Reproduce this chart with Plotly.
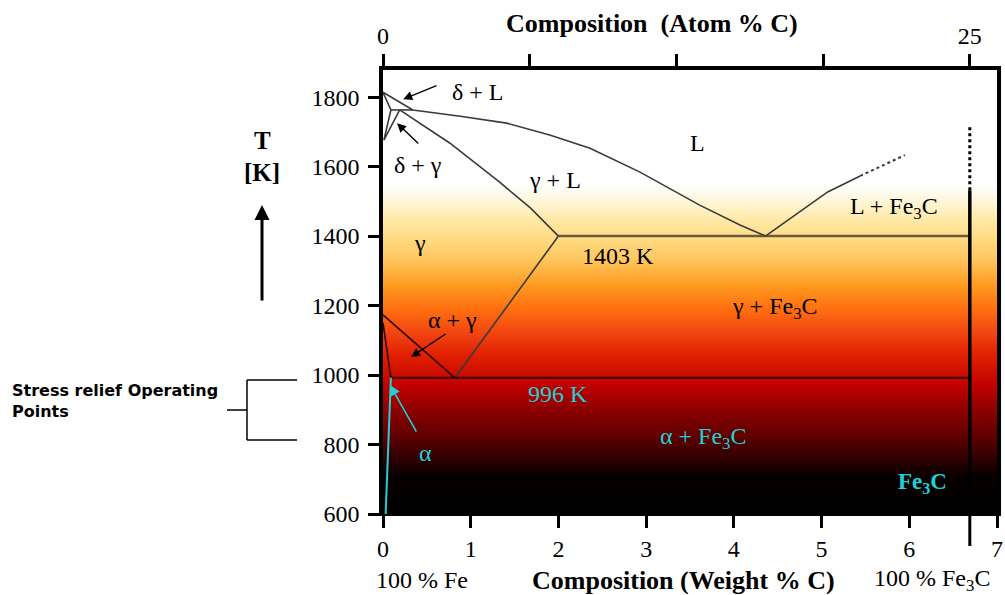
import numpy as np
import plotly.graph_objects as go

# ---------------- data (wt % C, temperature K) ----------------
liq_wt = [0.0, 0.34, 0.88, 1.41, 1.90, 2.36, 2.93, 3.61, 4.07, 4.36]
liq_K = [1814, 1763, 1745, 1725, 1691, 1653, 1584, 1489, 1432, 1400]
liq2_wt = [4.36, 5.07, 5.44]
liq2_K = [1400, 1527, 1573]
liq2dot_wt = [5.44, 5.95]
liq2dot_K = [1573, 1633]
sol_wt = [0.19, 0.76, 1.33, 1.68, 2.0]
sol_K = [1763, 1668, 1555, 1481, 1400]
acm_wt = [2.0, 0.82]
acm_K = [1400, 992]
eut_wt = [2.0, 6.69]
eut_K = [1400, 1400]
eutd_wt = [0.09, 6.69]
eutd_K = [992, 992]
a3_wt = [0.0, 0.82]
a3_K = [1173, 992]
alpha_wt = [0.0, 0.09]
alpha_K = [1150, 992]
alpha_solv_wt = [0.09, 0.03]
alpha_solv_K = [992, 600]
delta_sol_wt = [0.0, 0.09]
delta_sol_K = [1814, 1763]
perit_wt = [0.09, 0.34]
perit_K = [1763, 1763]
delta_g_wt = [0.09, 0.01, 0.19]
delta_g_K = [1763, 1676, 1763]
fe3c_wt = [6.69, 6.69]
fe3c_K = [600, 1532]
fe3c_dot_K = [1532, 1714]

grad_K = [600, 712, 761, 827, 905, 971, 1058, 1115, 1193, 1259, 1337, 1400, 1450, 1500, 1550, 1880]
grad_col = ["#000000", "#080000", "#300000", "#600000", "#900000", "#c00000", "#e02000",
            "#f04010", "#ff7010", "#ff9a20", "#ffc860", "#ffdc88", "#ffeaa8", "#fff6d8",
            "#ffffff", "#ffffff"]

y_ticks = [600, 800, 1000, 1200, 1400, 1600, 1800]
x_ticks = [0, 1, 2, 3, 4, 5, 6, 7]
atom_ticks = [0, 6.25, 12.5, 18.75, 25]
atom_labels = ["0", "", "", "", "25"]

XMAX, YMIN, YMAX = 7.0, 600, 1878
ATOM_MAX = 25 * XMAX / 6.69

SERIF = "Liberation Serif"
LINE = "#3a3a3a"
CYAN = "#22cfd6"

fig = go.Figure()

# background temperature gradient
gy = np.arange(600, 1881, 4)
fig.add_trace(go.Heatmap(
    x=[0, XMAX], y=gy, z=[[v, v] for v in gy], zmin=600, zmax=1880,
    colorscale=[[(k - 600) / 1280, c] for k, c in zip(grad_K, grad_col)],
    showscale=False, hoverinfo="skip", zsmooth="best"))


def ln(x, y, color=LINE, width=1.6, dash=None):
    fig.add_trace(go.Scatter(x=x, y=y, mode="lines", hoverinfo="skip", showlegend=False,
                             line=dict(color=color, width=width, dash=dash)))


ln(liq_wt, liq_K)
ln(liq2_wt, liq2_K)
ln(liq2dot_wt, liq2dot_K, dash="dot", width=2)
ln(sol_wt, sol_K)
ln(acm_wt, acm_K)
ln(eut_wt, eut_K, color="rgba(70,60,40,0.8)", width=2.6)
ln(eutd_wt, eutd_K, color="#3a0000", width=2)
ln(a3_wt, a3_K, color="#300000")
ln(alpha_wt, alpha_K, color="#300000")
ln(alpha_solv_wt, alpha_solv_K, color=CYAN, width=2)
ln(delta_sol_wt, delta_sol_K)
ln(perit_wt, perit_K)
ln(delta_g_wt, delta_g_K)
ln(fe3c_wt, fe3c_K, color="#000000", width=3.5)
ln(fe3c_wt, fe3c_dot_K, color="#000000", width=3, dash="dot")

# invisible trace on top axis
fig.add_trace(go.Scatter(x=[0, 25], y=[600, 600], xaxis="x2", mode="markers",
                         marker=dict(opacity=0), hoverinfo="skip", showlegend=False))

ann = []


def label(x, y, text, color="black", size=24, bold=False, xref="x", yref="y", family=SERIF,
          xanchor="center", yanchor="middle", **kw):
    if bold:
        text = "<b>" + text + "</b>"
    ann.append(dict(x=x, y=y, xref=xref, yref=yref, text=text, showarrow=False,
                    xanchor=xanchor, yanchor=yanchor,
                    font=dict(family=family, size=size, color=color), **kw))


def arrow(hx, hy, tx, ty, color="black", width=1.4, head=2, size=1.3):
    ann.append(dict(x=hx, y=hy, ax=tx, ay=ty, xref="x", yref="y", axref="x", ayref="y",
                    text="", showarrow=True, arrowhead=head, arrowsize=size,
                    arrowwidth=width, arrowcolor=color))


label(1.08, 1814, "δ + L")
label(-0.60, 1696, "δ")
label(0.40, 1604, "δ + γ")
label(3.58, 1668, "L")
label(1.96, 1561, "γ + L")
label(0.42, 1380, "γ")
label(2.68, 1342, "1403 K")
label(5.82, 1481, "L + Fe<sub>3</sub>C")
label(4.47, 1193, "γ + Fe<sub>3</sub>C")
label(0.79, 1158, "α + γ")
label(2.0, 945, "996 K", color=CYAN)
label(0.48, 776, "α", color=CYAN)
label(3.65, 819, "α + Fe<sub>3</sub>C", color=CYAN)
label(6.15, 689, "Fe<sub>3</sub>C", color=CYAN, bold=True, size=23)

arrow(0.23, 1794, 0.627, 1835)
arrow(-0.01, 1754, -0.40, 1682)
arrow(0.16, 1725, 0.42, 1662)
arrow(0.32, 1052, 0.73, 1121)
arrow(0.08, 971, 0.39, 833, color=CYAN, width=1.6)

W, H = 1005, 595
L, R, T, B = 383, 8, 70, 81
PW, PH = W - L - R, H - T - B


def px(x):
    return (x - L) / PW


def py(y):
    return (H - B - y) / PH


label(px(262), py(140), "T", bold=True, xref="paper", yref="paper", size=25)
label(px(262), py(172), "[K]", bold=True, xref="paper", yref="paper", size=25)
ann.append(dict(x=px(262), y=py(205), ax=0, ay=97, xref="paper", yref="paper",
                axref="pixel", ayref="pixel", text="", showarrow=True, arrowhead=2,
                arrowsize=1.0, arrowwidth=3, arrowcolor="black"))
label(px(10), py(401), "Stress relief Operating<br>Points", bold=True, xref="paper", yref="paper",
      size=16, family="DejaVu Sans", xanchor="left", align="left")
label(px(422), py(580), "100 % Fe", xref="paper", yref="paper", size=24)
label(px(683), py(580), "Composition (Weight % C)", xref="paper", yref="paper", size=26, bold=True)
label(px(932), py(580), "100 % Fe<sub>3</sub>C", xref="paper", yref="paper", size=24)
label(px(652), py(24), "Composition  (Atom % C)", xref="paper", yref="paper", size=26, bold=True)

shapes = []
for (x0, y0, x1, y1) in [(247, 380, 247, 440), (247, 380, 297, 380), (247, 440, 297, 440),
                         (227, 410, 247, 410)]:
    shapes.append(dict(type="line", xref="paper", yref="paper", x0=px(x0), y0=py(y0),
                       x1=px(x1), y1=py(y1), line=dict(color="black", width=1.5)))
shapes.append(dict(type="line", xref="x", yref="paper", x0=6.69, x1=6.69, y0=0, y1=py(546),
                   line=dict(color="black", width=3)))

fig.update_layout(
    width=W, height=H, margin=dict(l=L, r=R, t=T, b=B, autoexpand=False),
    paper_bgcolor="white", plot_bgcolor="white", showlegend=False,
    annotations=ann, shapes=shapes,
    xaxis=dict(range=[0, XMAX], tickvals=x_ticks, ticks="outside", ticklen=12, tickwidth=2.5,
               tickcolor="black", showline=True, linecolor="black", linewidth=2, showgrid=False,
               zeroline=False, automargin=False,
               tickfont=dict(family=SERIF, size=24, color="black")),
    xaxis2=dict(range=[0, ATOM_MAX], overlaying="x", side="top", tickvals=atom_ticks,
                ticktext=atom_labels, ticks="outside", ticklen=12, tickwidth=2.5,
                tickcolor="black", showline=True, linecolor="black", linewidth=4,
                showgrid=False, zeroline=False, automargin=False,
                tickfont=dict(family=SERIF, size=24, color="black")),
    yaxis=dict(range=[YMIN, YMAX], tickvals=y_ticks, ticks="outside", ticklen=11, tickwidth=3,
               tickcolor="black", showline=True, mirror=True, linecolor="black", linewidth=3.5,
               showgrid=False, zeroline=False, ticklabelstandoff=4, automargin=False,
               tickfont=dict(family=SERIF, size=24, color="black")),
)

fig.write_html("out.html", config={"displayModeBar": False},
               post_script="document.body.style.margin='0';")
